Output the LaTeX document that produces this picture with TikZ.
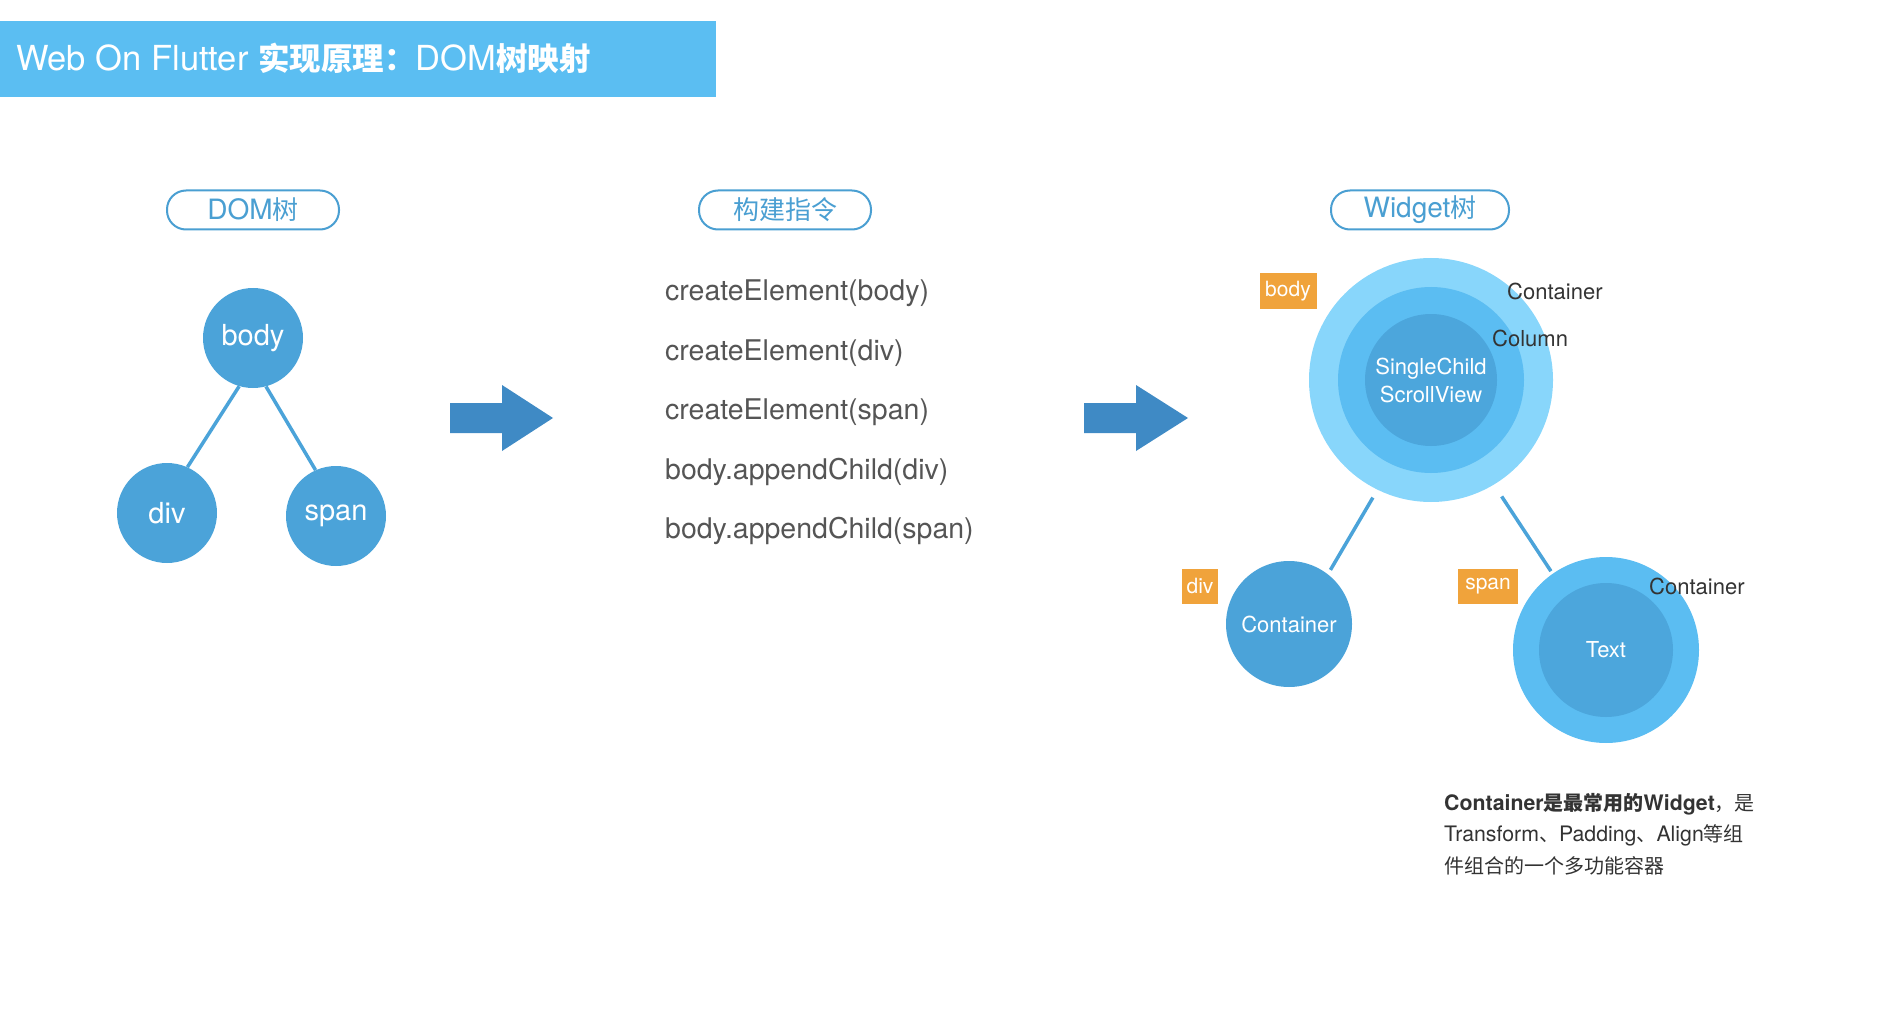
\documentclass[tikz,border=0pt]{standalone}
\usepackage{fontspec}
\setmainfont{TeX Gyre Heros}
\newfontfamily\cjk{Noto Sans CJK SC}
\definecolor{barblue}{HTML}{5BBEF2}
\definecolor{pillblue}{HTML}{4A9FD2}
\definecolor{nodeblue}{HTML}{4BA3D9}
\definecolor{arrowblue}{HTML}{3F8AC5}
\definecolor{outerblue}{HTML}{88D6FB}
\definecolor{midblue}{HTML}{5BBDF2}
\definecolor{innerblue}{HTML}{4CA6DC}
\definecolor{tagorange}{HTML}{F0A33B}
\definecolor{cmdgrey}{HTML}{555555}
\definecolor{labgrey}{HTML}{333333}
\newcommand\cjkpill{\fontsize{26}{30}\selectfont\cjk}
\newcommand\cjktitle{\fontsize{31.5}{36}\selectfont\cjk\bfseries}
\newcommand\cjknote{\fontsize{20}{24}\selectfont\cjk}
\begin{document}
\begin{tikzpicture}[x=1pt,y=-1pt,
  pill/.style={draw=pillblue, line width=2pt, rounded corners=19pt, fill=white,
    minimum width=172pt, minimum height=39pt, text=pillblue, inner sep=0,
    font=\fontsize{28}{32}\selectfont},
  domnode/.style={circle, fill=nodeblue, minimum size=100pt, inner sep=0, text=white,
    font=\fontsize{29}{32}\selectfont},
  cmd/.style={anchor=west, inner sep=0, text=cmdgrey, font=\fontsize{28.5}{33}\selectfont},
  link/.style={draw=nodeblue, line width=3.5pt},
  tag/.style={fill=tagorange, text=white, inner sep=0, minimum height=35pt,
    font=\fontsize{21}{25}\selectfont},
  wlabel/.style={anchor=west, inner sep=0, text=labgrey, font=\fontsize{22}{26}\selectfont},
  wtext/.style={text=white, align=center, font=\fontsize{22}{28}\selectfont},
  notetext/.style={anchor=west, inner sep=0, text=labgrey, font=\fontsize{21.3}{24}\selectfont}
]
\useasboundingbox (0,0) rectangle (1891,1011);

% title bar
\fill[barblue] (0,21) rectangle (716,97);
\node[anchor=west, inner sep=0, text=white, font=\fontsize{34.5}{38}\selectfont] (title) at (16,58)
  {Web On Flutter {\cjktitle 实现原理：}DOM{\cjktitle 树映射}};

% column headers
\node[pill] (hdom) at (253,210) {DOM{\cjkpill 树}};
\node[pill] (hcmd) at (785,210) {\cjkpill 构建指令};
\node[pill, minimum width=178pt] (hwid) at (1420,210) {Widget{\cjkpill 树}};

% DOM tree
\node[domnode] (body) at (253,338) {body};
\node[domnode] (div) at (167,513) {div};
\node[domnode] (span) at (336,516) {span};
\draw[link] (body.-106) -- (div.66);
\draw[link] (body.-75) -- (span.114);

% arrows
\fill[arrowblue] (450,403) -- (502,403) -- (502,385) -- (553,418) -- (502,451) -- (502,433) -- (450,433) -- cycle;
\fill[arrowblue] (1084,403) -- (1136,403) -- (1136,385) -- (1188,418) -- (1136,451) -- (1136,433) -- (1084,433) -- cycle;

% commands
\node[cmd] (c1) at (665,293) {createElement(body)};
\node[cmd] (c2) at (665,353) {createElement(div)};
\node[cmd] (c3) at (665,412) {createElement(span)};
\node[cmd] (c4) at (665,472) {body.appendChild(div)};
\node[cmd] (c5) at (665,531) {body.appendChild(span)};

% widget tree
\node[circle, fill=outerblue, minimum size=244pt, inner sep=0] (wbody) at (1431,380) {};
\node[circle, fill=midblue, minimum size=186pt, inner sep=0] (wcol) at (wbody.center) {};
\node[circle, fill=innerblue, minimum size=132pt, inner sep=0, wtext] (wscroll) at (wbody.center) {SingleChild\\ScrollView};
\node[wlabel] (lcont1) at (1507,291) {Container};
\node[wlabel] (lcol) at (1492,338) {Column};
\node[tag, minimum width=57pt] (tbody) at (1288,291) {body};

\node[circle, fill=nodeblue, minimum size=126pt, inner sep=0, wtext] (wcont) at (1289,624) {Container};
\node[tag, minimum width=36pt] (tdiv) at (1200,586) {div};

\node[circle, fill=midblue, minimum size=186pt, inner sep=0] (wspan) at (1606,650) {};
\node[circle, fill=innerblue, minimum size=134pt, inner sep=0, wtext] (wtxt) at (wspan.center) {Text};
\node[tag, minimum width=60pt] (tspan) at (1488,586) {span};
\node[wlabel] (lcont2) at (1649,586) {Container};

\draw[link, shorten <=9pt, shorten >=5pt] (wbody.-116) -- (wcont.52);
\draw[link, shorten <=14pt, shorten >=3pt] (wbody.-59) -- (wspan.125);

% note
\node[notetext] (n1) at (1444,804) {\bfseries Container{\cjknote 是最常用的}Widget\mdseries{\cjknote ，是}};
\node[notetext] (n2) at (1444,835) {Transform{\cjknote 、}Padding{\cjknote 、}Align{\cjknote 等组}};
\node[notetext] (n3) at (1444,866) {\cjknote 件组合的一个多功能容器};
\end{tikzpicture}
\end{document}
